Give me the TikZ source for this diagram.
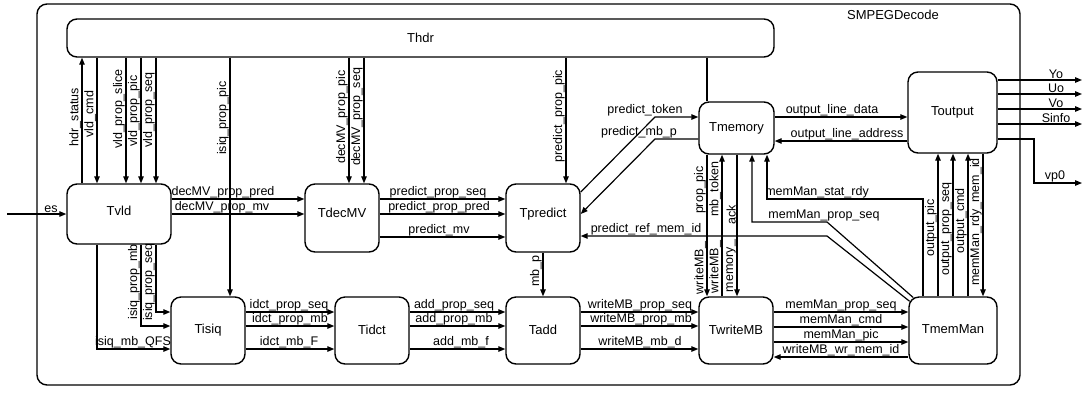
\documentclass[tikz,border=0pt]{standalone}
\usepackage{fontspec}
\setmainfont{Liberation Sans}
\usetikzlibrary{arrows.meta}
\begin{document}
\begin{tikzpicture}[x=1pt,y=-1pt,
  task/.style={draw, line width=1.4pt, rounded corners=10pt, fill=white, inner sep=0pt, font=\fontsize{13}{15}\selectfont},
  wire/.style={line width=1.2pt},
  arr/.style={wire, -{Triangle[length=7pt,width=5.5pt]}},
  elab/.style={inner sep=1pt, font=\fontsize{12.5}{14}\selectfont},
  vlab/.style={elab, rotate=90, anchor=south},
  hlab/.style={elab, anchor=south}]
\useasboundingbox (0,0) rectangle (1083,392);

% ---------- boxes ----------
\node[task, fill=none, minimum width=983pt, minimum height=381pt] (SMPEG) at (528.5,194.5) {};
\node[font=\fontsize{13}{15}\selectfont, inner sep=0pt] (SMPEGlabel) at (893,15) {SMPEGDecode};
\node[task, minimum width=707pt, minimum height=38pt] (Thdr) at (420.5,38) {Thdr};
\node[task, minimum width=104pt, minimum height=60pt] (Tvld) at (119,214) {\raisebox{6pt}{Tvld}};
\node[task, minimum width=74pt, minimum height=68pt] (TdecMV) at (342,218) {\raisebox{10pt}{TdecMV}};
\node[task, minimum width=74pt, minimum height=68pt] (Tpredict) at (543,218) {\raisebox{10pt}{Tpredict}};
\node[task, minimum width=74pt, minimum height=67pt] (Tisiq) at (208,330.5) {\raisebox{2pt}{Tisiq}};
\node[task, minimum width=74pt, minimum height=67pt] (Tidct) at (372,330.5) {\raisebox{2pt}{Tidct}};
\node[task, minimum width=74pt, minimum height=67pt] (Tadd) at (543,330.5) {\raisebox{2pt}{Tadd}};
\node[task, minimum width=74pt, minimum height=67pt] (TwriteMB) at (736,330.5) {\raisebox{2pt}{TwriteMB}};
\node[task, minimum width=88pt, minimum height=67pt] (TmemMan) at (953,330.5) {\raisebox{2pt}{TmemMan}};
\node[task, minimum width=75pt, minimum height=52pt] (Tmemory) at (736.5,128) {Tmemory};
\node[task, minimum width=89pt, minimum height=81pt] (Toutput) at (952.5,112.5) {Toutput};

% ---------- free ends ----------
\coordinate (esIn) at (7,214);
\coordinate (Yo) at (1082,80);
\coordinate (Uo) at (1082,94);
\coordinate (Vo) at (1082,109);
\coordinate (Sinfo) at (1082,124);
\coordinate (vp0) at (1082,183);

% ---------- Thdr verticals ----------
\draw[arr] (Tvld.north -| 82,0) -- (Thdr.south -| 82,0);
\draw[arr] (Thdr.south -| 97,0) -- (Tvld.north -| 97,0);
\draw[arr] (Thdr.south -| 126,0) -- (Tvld.north -| 126,0);
\draw[arr] (Thdr.south -| 141,0) -- (Tvld.north -| 141,0);
\draw[arr] (Thdr.south -| 156,0) -- (Tvld.north -| 156,0);
\draw[arr] (Thdr.south -| 230,0) -- (Tisiq.north -| 230,0);
\draw[arr] (Thdr.south -| 349,0) -- (TdecMV.north -| 349,0);
\draw[arr] (Thdr.south -| 364,0) -- (TdecMV.north -| 364,0);
\draw[arr] (Thdr.south -| 566,0) -- (Tpredict.north -| 566,0);
\draw[wire] (Thdr.south -| 707,0) -- (Tmemory.north -| 707,0);
\draw[arr] (Tmemory.south -| 707,0) -- (TwriteMB.north -| 707,0);

\node[vlab] (Lhdrstatus) at (82,117) {hdr\_status};
\node[vlab] (Lvldcmd) at (97,114) {vld\_cmd};
\node[vlab] (Lvldslice) at (126,109) {vld\_prop\_slice};
\node[vlab] (Lvldpic) at (141,111) {vld\_prop\_pic};
\node[vlab] (Lvldseq) at (156,110) {vld\_prop\_seq};
\node[vlab] (Lisiqpic) at (230,118) {isiq\_prop\_pic};
\node[vlab] (Ldecpic) at (349,117) {decMV\_prop\_pic};
\node[vlab] (Ldecseq) at (364,117) {decMV\_prop\_seq};
\node[vlab] (Lpredpic) at (566,116) {predict\_prop\_pic};

% ---------- es ----------
\draw[arr] (esIn) -- (Tvld.west);
\node[hlab] (Les) at (51,214) {es};

% ---------- Tvld -> TdecMV ----------
\draw[arr] (Tvld.east |- 0,199) -- (TdecMV.west |- 0,199);
\draw[arr] (Tvld.east |- 0,214) -- (TdecMV.west |- 0,214);
\node[hlab] (Ldecpred) at (223,199) {decMV\_prop\_pred};
\node[hlab] (Ldecmv) at (222,214) {decMV\_prop\_mv};

% ---------- TdecMV -> Tpredict ----------
\draw[arr] (TdecMV.east |- 0,199) -- (Tpredict.west |- 0,199);
\draw[arr] (TdecMV.east |- 0,214) -- (Tpredict.west |- 0,214);
\draw[arr] (TdecMV.east |- 0,237) -- (Tpredict.west |- 0,237);
\node[hlab] (Lpredseq) at (438,199) {predict\_prop\_seq};
\node[hlab] (Lpredpred) at (439,214) {predict\_prop\_pred};
\node[hlab] (Lpredmv) at (439,237) {predict\_mv};

% ---------- Tvld -> Tisiq ----------
\draw[arr] (Tvld.south -| 141,0) |- (Tisiq.west |- 0,326);
\draw[arr] (Tvld.south -| 156,0) |- (Tisiq.west |- 0,312);
\draw[arr] (Tvld.south -| 97,0) |- (Tisiq.west |- 0,349);
\node[vlab] (Lisiqmb) at (141,282) {isiq\_prop\_mb};
\node[vlab] (Lisiqseq) at (156,282) {isiq\_prop\_seq};
\node[hlab] (Lisiqqfs) at (133,349) {isiq\_mb\_QFS};

% ---------- Tisiq -> Tidct ----------
\draw[arr] (Tisiq.east |- 0,312) -- (Tidct.west |- 0,312);
\draw[arr] (Tisiq.east |- 0,326) -- (Tidct.west |- 0,326);
\draw[arr] (Tisiq.east |- 0,349) -- (Tidct.west |- 0,349);
\node[hlab] (Lidctseq) at (289,312) {idct\_prop\_seq};
\node[hlab] (Lidctmb) at (290,326) {idct\_prop\_mb};
\node[hlab] (LidctF) at (289,349) {idct\_mb\_F};

% ---------- Tidct -> Tadd ----------
\draw[arr] (Tidct.east |- 0,312) -- (Tadd.west |- 0,312);
\draw[arr] (Tidct.east |- 0,326) -- (Tadd.west |- 0,326);
\draw[arr] (Tidct.east |- 0,349) -- (Tadd.west |- 0,349);
\node[hlab] (Laddseq) at (454,312) {add\_prop\_seq};
\node[hlab] (Laddmb) at (454,326) {add\_prop\_mb};
\node[hlab] (Laddf) at (461,349) {add\_mb\_f};

% ---------- Tpredict -> Tadd ----------
\draw[arr] (Tpredict.south) -- (Tadd.north);
\node[vlab] (Lmbp) at (543,271) {mb\_p};

% ---------- Tadd -> TwriteMB ----------
\draw[arr] (Tadd.east |- 0,312) -- (TwriteMB.west |- 0,312);
\draw[arr] (Tadd.east |- 0,326) -- (TwriteMB.west |- 0,326);
\draw[arr] (Tadd.east |- 0,349) -- (TwriteMB.west |- 0,349);
\node[hlab] (Lwmbseq) at (640,312) {writeMB\_prop\_seq};
\node[hlab] (Lwmbmb) at (641,326) {writeMB\_prop\_mb};
\node[hlab] (Lwmbd) at (640,349) {writeMB\_mb\_d};

% ---------- TwriteMB <-> TmemMan ----------
\draw[arr] (TwriteMB.east |- 0,312) -- (TmemMan.west |- 0,312);
\draw[arr] (TwriteMB.east |- 0,327) -- (TmemMan.west |- 0,327);
\draw[arr] (TwriteMB.east |- 0,342) -- (TmemMan.west |- 0,342);
\draw[arr] (TmemMan.west |- 0,357) -- (TwriteMB.east |- 0,357);
\node[hlab] (Lmmseq) at (841,312) {memMan\_prop\_seq};
\node[hlab] (Lmmcmd) at (841,327) {memMan\_cmd};
\node[hlab] (Lmmpic) at (841,342) {memMan\_pic};
\node[hlab] (Lwrmem) at (841,357) {writeMB\_wr\_mem\_id};

% ---------- Tpredict <-> Tmemory ----------
\draw[arr] (Tpredict.east |- 0,192) -- (655,117) -- (Tmemory.west |- 0,117);
\draw[arr] (Tmemory.west |- 0,139) -- (655,139) -- (Tpredict.east |- 0,214);
\node[hlab] (Lptoken) at (645,117) {predict\_token};
\node[hlab] (Lpmbp) at (639,139) {predict\_mb\_p};

% ---------- TmemMan -> Tpredict / Tmemory ----------
\draw[arr] ([shift={(1.3,5)}]TmemMan.north west) -- (827,236) -- (Tpredict.east |- 0,236);
\node[hlab] (Lprefmem) at (646,236) {predict\_ref\_mem\_id};
\draw[arr] ([shift={(5,1.3)}]TmemMan.north west) -- (827,222) -- (752,222) -- (Tmemory.south -| 752,0);
\node[hlab] (Lmmseq2) at (824,222) {memMan\_prop\_seq};
\draw[arr] (TmemMan.north -| 923,0) |- (767,199) -- (Tmemory.south -| 767,0);
\node[hlab] (Lstatrdy) at (817,199) {memMan\_stat\_rdy};

% ---------- Tmemory <-> TwriteMB ----------
\draw[arr] (TwriteMB.north -| 722,0) -- (Tmemory.south -| 722,0);
\draw[arr] (Tmemory.south -| 737,0) -- (TwriteMB.north -| 737,0);
\node[vlab] (Lproppic) at (707,190) {prop\_pic};
\node[vlab] (Lmbtoken) at (722,189) {mb\_token};
\node[vlab] (Lack) at (737,215) {ack};
\node[vlab] (Lwmb1) at (707,268) {writeMB\_};
\node[vlab] (Lwmb2) at (722,267) {writeMB\_};
\node[vlab] (Lmemory) at (737,266) {memory\_};

% ---------- Tmemory <-> Toutput ----------
\draw[arr] (Tmemory.east |- 0,117) -- (Toutput.west |- 0,117);
\draw[arr] (Toutput.west |- 0,141) -- (Tmemory.east |- 0,141);
\node[hlab] (Loutdata) at (832,117) {output\_line\_data};
\node[hlab] (Loutaddr) at (847,141) {output\_line\_address};

% ---------- TmemMan <-> Toutput ----------
\draw[arr] (TmemMan.north -| 938,0) -- (Toutput.south -| 938,0);
\draw[arr] (TmemMan.north -| 953,0) -- (Toutput.south -| 953,0);
\draw[arr] (TmemMan.north -| 968,0) -- (Toutput.south -| 968,0);
\draw[arr] (Toutput.south -| 983,0) -- (TmemMan.north -| 983,0);
\node[vlab] (Loutpic) at (938,228) {output\_pic};
\node[vlab] (Loutseq) at (953,229) {output\_prop\_seq};
\node[vlab] (Loutcmd) at (968,221) {output\_cmd};
\node[vlab] (Lrdymem) at (983,222) {memMan\_rdy\_mem\_id};

% ---------- outputs ----------
\draw[arr] (Toutput.east |- Yo) -- (Yo);
\draw[arr] (Toutput.east |- Uo) -- (Uo);
\draw[arr] (Toutput.east |- Vo) -- (Vo);
\draw[arr] (Toutput.east |- Sinfo) -- (Sinfo);
\draw[arr] (Toutput.east |- 0,139) -- (1034,139) |- (vp0);
\node[hlab] (LYo) at (1056,80) {Yo};
\node[hlab] (LUo) at (1056,94) {Uo};
\node[hlab] (LVo) at (1056,109) {Vo};
\node[hlab] (LSinfo) at (1056,124) {Sinfo};
\node[hlab] (Lvp0) at (1055,183) {vp0};
\end{tikzpicture}
\end{document}
